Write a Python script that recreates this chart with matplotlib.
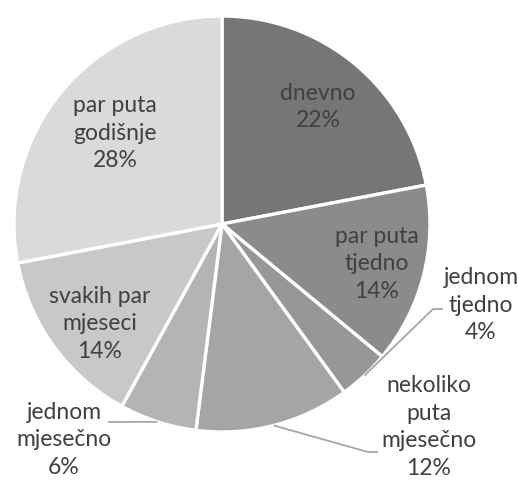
import numpy as np
import matplotlib.pyplot as plt

# data
labels = ["dnevno", "par puta\ntjedno", "jednom\ntjedno", "nekoliko\nputa\nmjesečno",
          "jednom\nmjesečno", "svakih par\nmjeseci", "par puta\ngodišnje"]
shares = [22, 14, 4, 12, 6, 14, 28]

# styling / layout (pixel coords, y from top)
colors = ["#767676", "#8b8b8b", "#979797", "#a5a5a5", "#b4b4b4", "#c8c8c8", "#dadada"]
label_xy = [(318, 107), (377, 264), (481, 305), (429, 427), (64, 440), (100, 324), (115, 133)]
# leader lines: index -> (elbow, end) for labels outside the pie
leaders = {2: [(433, 309), (443, 309)], 3: [(368, 452), (378, 452)], 4: [(108, 422), (108, 422)]}

W, H = 518, 482
CX, CY, R = 222, 224, 208
TEXT = "#404040"

plt.rcParams["font.family"] = ["Lato", "DejaVu Sans"]

fig = plt.figure(figsize=(W / 100, H / 100), dpi=100)
ax = fig.add_axes([0, 0, 1, 1])

ax.pie(shares, colors=colors, startangle=90, counterclock=False,
       center=(CX, H - CY), radius=R,
       wedgeprops=dict(edgecolor="white", linewidth=2.4))

total = sum(shares)
cum = np.cumsum([0] + shares)
for i, (lab, v) in enumerate(zip(labels, shares)):
    x, y = label_xy[i]
    ax.text(x, H - y, f"{lab}\n{v}%", ha="center", va="center", fontsize=16.5,
            color=TEXT, linespacing=1.38)
    if i in leaders:
        mid = 90 - (cum[i] + v / 2) / total * 360
        sx = CX + R * np.cos(np.radians(mid))
        sy = CY - R * np.sin(np.radians(mid))
        (ex, ey), (fx, fy) = leaders[i]
        ax.plot([sx, ex, fx], [H - sy, H - ey, H - fy], color="#a6a6a6", lw=1.3,
                solid_capstyle="butt")

ax.set_xlim(0, W)
ax.set_ylim(0, H)
ax.set_aspect("auto")
ax.axis("off")

fig.savefig("out.png", dpi=100)
